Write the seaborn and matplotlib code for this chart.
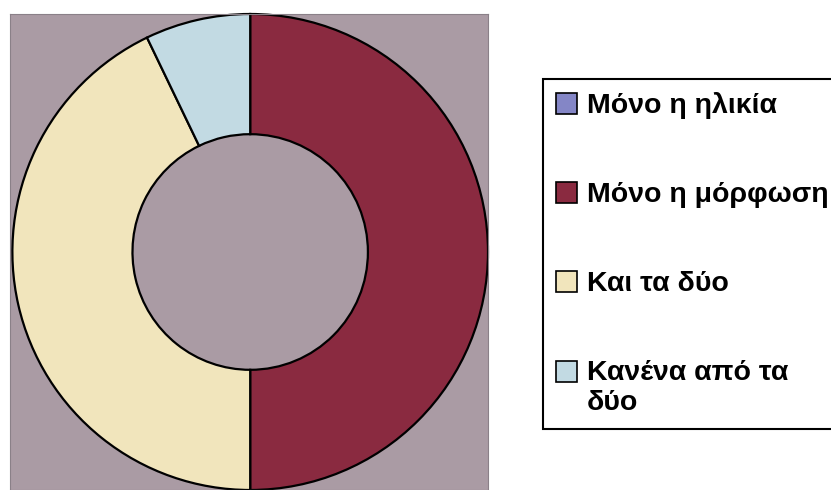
import matplotlib
matplotlib.use("Agg")
import matplotlib.pyplot as plt
from matplotlib.patches import Patch, Rectangle
from matplotlib.legend_handler import HandlerPatch
import seaborn as sns

# data
categories = ["Μόνο η ηλικία", "Μόνο η μόρφωση", "Και τα δύο", "Κανένα από τα\nδύο"]
counts = [0, 7, 6, 1]

# colours (scanned Excel palette)
palette = sns.color_palette(["#8486C6", "#8A2A40", "#F1E5BC", "#C2DAE3"])
plot_bg = "#AA9BA4"

sns.set_theme(style="white")
plt.rcParams["font.family"] = ["Liberation Sans", "DejaVu Sans"]
plt.rcParams["text.color"] = "black"

fig = plt.figure(figsize=(8.31, 4.90), dpi=100)

# plot area: x 10..488 px, y 14..490 px
ax = fig.add_axes([10 / 831, 0, 478 / 831, 476 / 490])

ax.pie(
    counts,
    colors=palette,
    startangle=90,
    counterclock=False,
    radius=1.0,
    frame=True,
    wedgeprops=dict(width=0.505, edgecolor="black", linewidth=1.6),
)
ax.set_facecolor(plot_bg)
ax.set_aspect("auto")
ax.set_xlim(-1.01, 1.0)
ax.set_ylim(-1.0, 1.0)
ax.set_xticks([])
ax.set_yticks([])
for s in ax.spines.values():
    s.set_visible(True)
    s.set_color("#8a8088")
    s.set_linewidth(0.8)


# legend: marker sits next to the first line of a wrapped label
def top_square(legend, orig_handle, xdescent, ydescent, width, height, fontsize):
    nlines = getattr(orig_handle, "_nlines", 1)
    dy = (nlines - 1) * 0.58 * fontsize
    return Rectangle((-xdescent, -ydescent + dy), width, height)


handles = []
for c, lab in zip(palette, categories):
    p = Patch(facecolor=c, edgecolor="black", linewidth=1.2)
    p._nlines = lab.count("\n") + 1
    handles.append(p)

leg = fig.legend(
    handles,
    categories,
    loc="upper left",
    bbox_to_anchor=(543 / 831, 1 - 79 / 490),
    frameon=True,
    fancybox=False,
    framealpha=1,
    edgecolor="black",
    borderpad=0.47,
    handlelength=0.74,
    handleheight=0.74,
    handletextpad=0.33,
    labelspacing=2.2,
    borderaxespad=0,
    prop=dict(size=20.5, weight="bold"),
    handler_map={Patch: HandlerPatch(patch_func=top_square)},
)
leg.get_frame().set_linewidth(1.5)

fig.savefig("out.png", dpi=100)
